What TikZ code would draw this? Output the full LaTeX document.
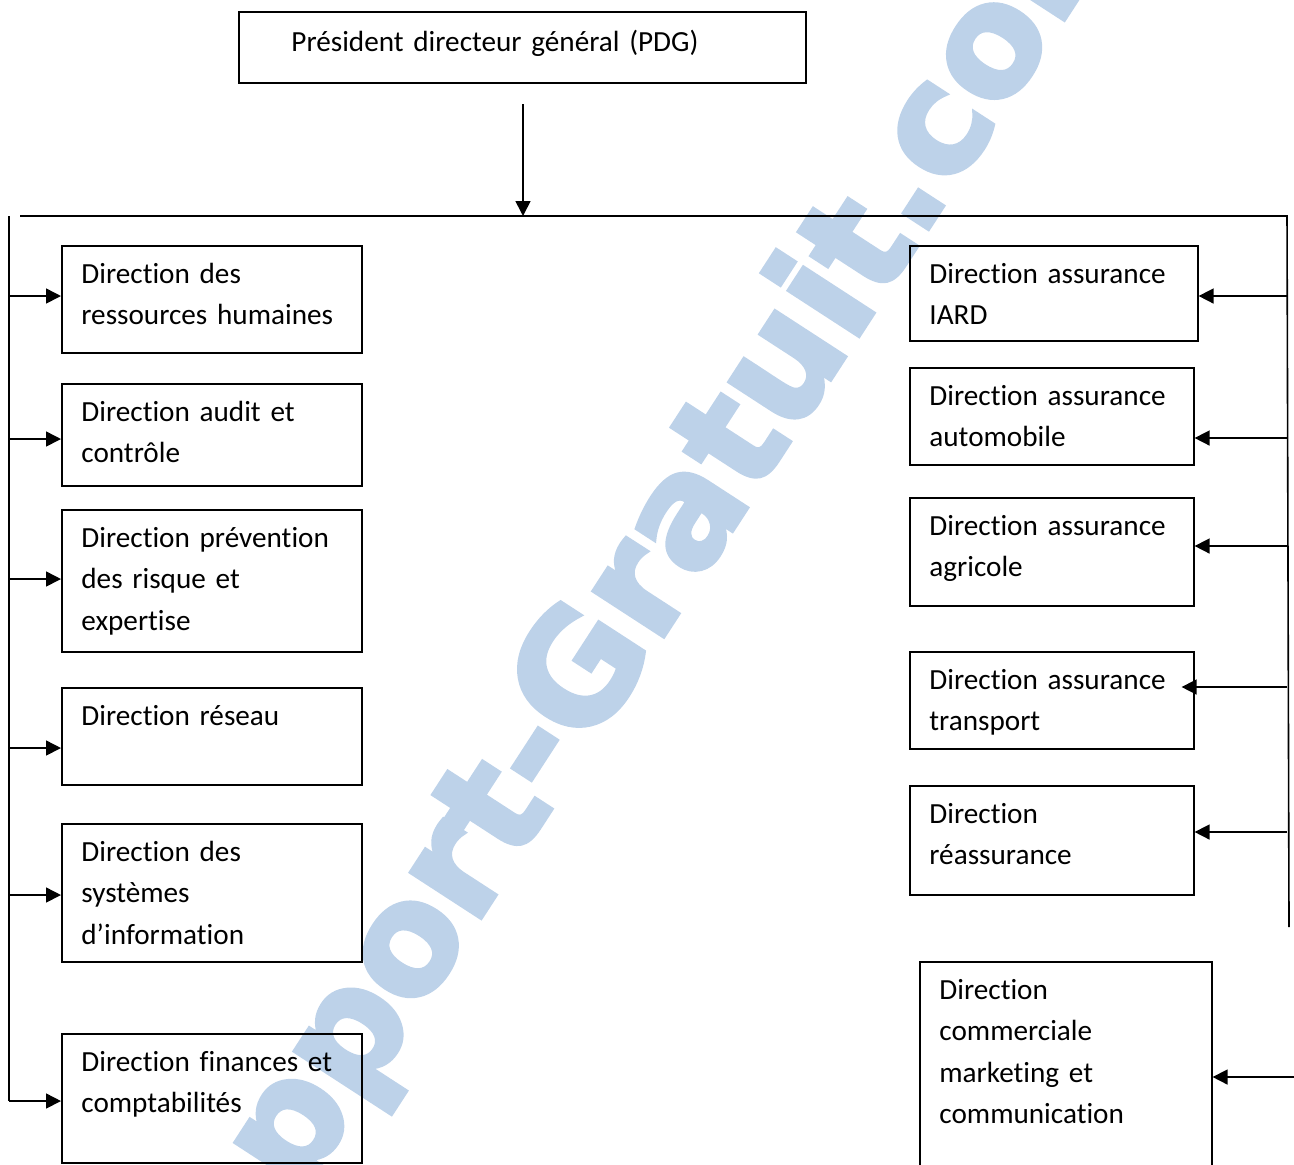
\documentclass[tikz,border=0pt]{standalone}
\usepackage{fontspec}
\setmainfont{Carlito}[Ligatures=NoCommon]
\newfontfamily\markfont{DejaVu Sans}[FakeBold=3]
\usetikzlibrary{arrows.meta,calc}

\definecolor{markblue}{RGB}{189,210,233}

\tikzset{
  unit/.style={draw, line width=0.8pt, anchor=north west, inner sep=0pt},
  unittext/.style={anchor=north west, align=left, text width=150pt, inner sep=0pt,
    font=\fontsize{14.6}{20.75}\selectfont, execute at begin node=\strut},
  wire/.style={line width=0.8pt},
  link/.style={line width=0.8pt, -{Triangle[length=7.5pt,width=7.5pt]}},
  wmark/.style={text=markblue, inner sep=0pt, font=\markfont\bfseries\fontsize{76}{80}\selectfont},
}

\begin{document}
\begin{tikzpicture}[x=0.5pt, y=-0.5pt]
  \clip (0,0) rectangle (1294,1164);

  % watermark, behind everything
  \node[wmark, rotate=57] (wm) at (626,617) {Rapport-Gratuit.com};

  % PDG
  \node[unit, minimum width=283.5pt, minimum height=35.5pt] (pdg) at (238,11) {};
  \node[unittext, text width=270pt] (pdgtext) at ([shift={(53,11)}]pdg.north west) {Président directeur général (PDG)};

  % left column
  \node[unit, minimum width=150pt, minimum height=53.5pt] (rh) at (61,245) {};
  \node[unittext] (rhtext) at ([shift={(20,9)}]rh.north west) {Direction des\\ressources humaines};
  \node[unit, minimum width=150pt, minimum height=51pt] (audit) at (61,383) {};
  \node[unittext] (audittext) at ([shift={(20,9)}]audit.north west) {Direction audit et\\contrôle};
  \node[unit, minimum width=150pt, minimum height=71pt] (risque) at (61,509) {};
  \node[unittext] (risquetext) at ([shift={(20,9)}]risque.north west) {Direction prévention\\des risque et\\expertise};
  \node[unit, minimum width=150pt, minimum height=48.5pt] (reseau) at (61,687) {};
  \node[unittext] (reseautext) at ([shift={(20,9)}]reseau.north west) {Direction réseau};
  \node[unit, minimum width=150pt, minimum height=69pt] (si) at (61,823) {};
  \node[unittext] (sitext) at ([shift={(20,9)}]si.north west) {Direction des\\systèmes\\d’information};
  \node[unit, minimum width=150pt, minimum height=64.5pt] (fin) at (61,1033) {};
  \node[unittext] (fintext) at ([shift={(20,9)}]fin.north west) {Direction finances et\\comptabilités};

  % right column
  \node[unit, minimum width=144pt, minimum height=47.5pt] (iard) at (909,245) {};
  \node[unittext] (iardtext) at ([shift={(20,9)}]iard.north west) {Direction assurance\\IARD};
  \node[unit, minimum width=142pt, minimum height=48.5pt] (automobile) at (909,367) {};
  \node[unittext] (automobiletext) at ([shift={(20,9)}]automobile.north west) {Direction assurance\\automobile};
  \node[unit, minimum width=142pt, minimum height=54pt] (agri) at (909,497) {};
  \node[unittext] (agritext) at ([shift={(20,9)}]agri.north west) {Direction assurance\\agricole};
  \node[unit, minimum width=142pt, minimum height=48.5pt] (transp) at (909,651) {};
  \node[unittext] (transptext) at ([shift={(20,9)}]transp.north west) {Direction assurance\\transport};
  \node[unit, minimum width=142pt, minimum height=54.5pt] (reas) at (909,785) {};
  \node[unittext] (reastext) at ([shift={(20,9)}]reas.north west) {Direction\\réassurance};
  \node[unit, minimum width=146pt, minimum height=110pt] (comm) at (919,961) {};
  \node[unittext] (commtext) at ([shift={(20,9)}]comm.north west) {Direction\\commerciale\\marketing et\\communication};

  % bus lines
  \coordinate (pdgout) at (523,104);
  \coordinate (busin) at (523,216);
  \coordinate (busstart) at (20,216);
  \coordinate (ltop) at (9,216);
  \coordinate (lbot) at (9,1101);
  \coordinate (rtop) at (1287,216);
  \coordinate (rbot) at (1289,927);
  \draw[link] (pdgout) -- (busin);
  \draw[wire] (busstart) -- (rtop) -- (rbot);
  \draw[wire] (ltop) -- (lbot);

  % arrows to the left column
  \foreach \dept/\y in {rh/296, audit/439, risque/579, reseau/748, si/895, fin/1101} {
    \coordinate (tap-\dept) at (9,\y);
    \draw[link] (tap-\dept) -- (tap-\dept -| \dept.west);
  }

  % arrows to the right column
  \foreach \dept/\y in {iard/296, automobile/438, agri/546, reas/832} {
    \coordinate (tap-\dept) at (1287,\y);
    \draw[link] (tap-\dept) -- (tap-\dept -| \dept.east);
  }
  \coordinate (tap-transp) at (1287,687);
  \draw[link, shorten >=-6.5pt] (tap-transp) -- (tap-transp -| transp.east);
  \coordinate (tap-comm) at (1294,1077);
  \draw[link] (tap-comm) -- (tap-comm -| comm.east);
\end{tikzpicture}
\end{document}
